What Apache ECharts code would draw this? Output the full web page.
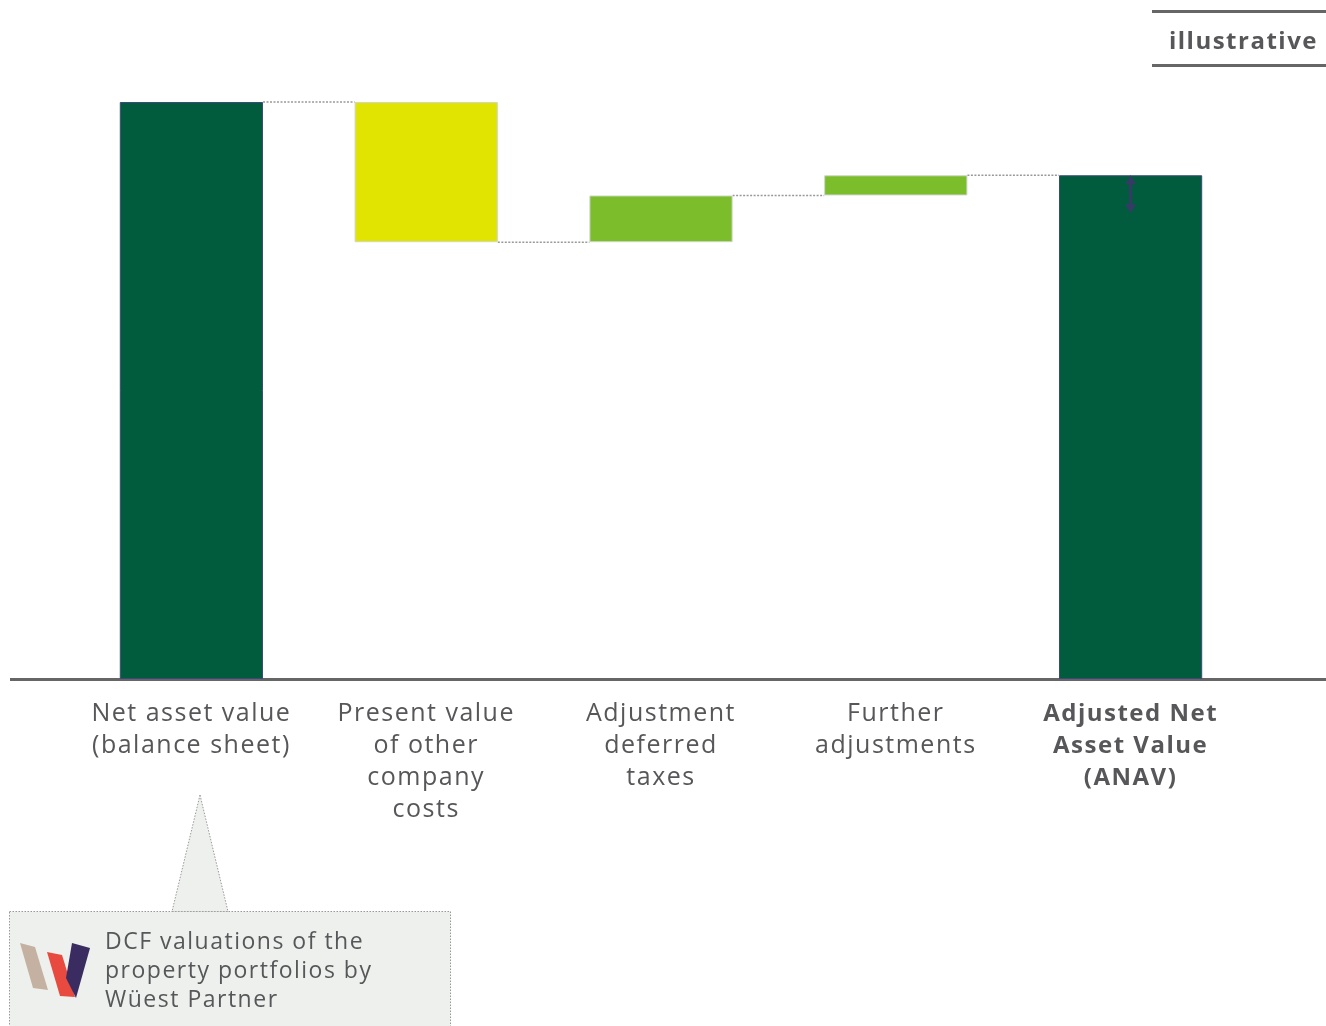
<!DOCTYPE html>
<html>
<head>
<meta charset="utf-8">
<script src="https://cdn.jsdelivr.net/npm/echarts@6/dist/echarts.min.js"></script>
<style>
html,body{margin:0;padding:0;background:#fff;}
#chart{width:1326px;height:1026px;}
</style>
</head>
<body>
<div id="chart"></div>
<script>
// ---- data ----
const categories = ['Net asset value\n(balance sheet)', 'Present value\nof other\ncompany\ncosts', 'Adjustment\ndeferred\ntaxes', 'Further\nadjustments', 'Adjusted Net\nAsset Value\n(ANAV)'];
const values = [100, -24.3, 8.1, 3.5, 87.3];
const isTotal = [true, false, false, false, true];
const barColors = ['#005C3D', '#E1E300', '#7BBD2B', '#7BBD2B', '#005C3D'];
const anavRange = [87.3, 80.7];
const noteText = 'DCF valuations of the\nproperty portfolios by\nWüest Partner';
const badgeText = 'illustrative';

// wide-tracked lettering like the original typeface
(function () {
  const orig = HTMLCanvasElement.prototype.getContext;
  HTMLCanvasElement.prototype.getContext = function (type, opts) {
    const ctx = orig.call(this, type, opts);
    if (ctx && type === '2d' && 'letterSpacing' in ctx && !ctx.__ls) {
      ctx.__ls = true;
      ctx.letterSpacing = '1.5px';
    }
    return ctx;
  };
})();

// ---- waterfall build ----
const base = [], height = [], levels = [];
let running = 0;
values.forEach((v, i) => {
  if (isTotal[i]) { base.push(0); height.push(v); running = v; }
  else if (v < 0) { base.push(running + v); height.push(-v); running += v; }
  else { base.push(running); height.push(v); running += v; }
  levels.push(running);
});
const connectors = [];
for (let i = 0; i < values.length - 1; i++) connectors.push([i, levels[i]]);

const BAR_FRAC = 0.61;
const chart = echarts.init(document.getElementById('chart'));
const textColor = '#57575A';
const fontFamily = '"Open Sans", "Noto Sans", sans-serif';

chart.setOption({
  animation: false,
  grid: { left: 74, right: 78, top: 102, bottom: 347 },
  xAxis: {
    type: 'category',
    data: categories,
    axisLine: { show: false },
    axisTick: { show: false },
    axisLabel: {
      interval: 0,
      margin: 19,
      formatter: (v, i) => (i === 4 ? '{b|' + v + '}' : '{n|' + v + '}'),
      rich: {
        n: { fontSize: 25, lineHeight: 32, color: textColor, fontFamily: fontFamily, fontWeight: 400 },
        b: { fontSize: 24, lineHeight: 32, color: textColor, fontFamily: fontFamily, fontWeight: 700 }
      }
    }
  },
  yAxis: { type: 'value', min: 0, max: 100, show: false, splitLine: { show: false } },
  series: [
    {
      type: 'bar', stack: 'w', barWidth: (BAR_FRAC * 100) + '%',
      itemStyle: { color: 'transparent' },
      data: base, silent: true
    },
    {
      type: 'bar', stack: 'w', barWidth: (BAR_FRAC * 100) + '%',
      data: height.map((h, i) => ({
        value: h,
        itemStyle: {
          color: barColors[i],
          borderColor: isTotal[i] ? '#3B4A78' : '#D0D6CC',
          borderWidth: 1
        }
      }))
    },
    {
      type: 'custom',
      data: connectors,
      z: 1,
      renderItem: (params, api) => {
        const i = api.value(0), lv = api.value(1);
        const bw = api.size([1, 0])[0] * BAR_FRAC / 2;
        const p1 = api.coord([i, lv]);
        const p2 = api.coord([i + 1, lv]);
        return {
          type: 'line',
          shape: { x1: p1[0] + bw, y1: p1[1], x2: p2[0] - bw, y2: p2[1] },
          style: { stroke: '#999', lineWidth: 1.5, lineDash: [2, 1.5] }
        };
      }
    },
    {
      // double arrow marking the ANAV range
      type: 'custom',
      data: [[values.length - 1, anavRange[0], anavRange[1]]],
      z: 5,
      renderItem: (params, api) => {
        const a = api.coord([api.value(0), api.value(1)]);
        const b = api.coord([api.value(0), api.value(2)]);
        const x = a[0], hw = 5.5, hh = 9, c = '#363B66';
        return {
          type: 'group',
          children: [
            { type: 'line', shape: { x1: x, y1: a[1] + hh - 1, x2: x, y2: b[1] - hh + 1 }, style: { stroke: c, lineWidth: 3 } },
            { type: 'polygon', shape: { points: [[x, a[1]], [x - hw, a[1] + hh], [x + hw, a[1] + hh]] }, style: { fill: c } },
            { type: 'polygon', shape: { points: [[x, b[1]], [x - hw, b[1] - hh], [x + hw, b[1] - hh]] }, style: { fill: c } }
          ]
        };
      }
    }
  ],
  graphic: [
    // axis baseline
    { type: 'line', shape: { x1: 10, y1: 679.5, x2: 1326, y2: 679.5 }, style: { stroke: '#666', lineWidth: 3 } },
    // illustrative badge
    { type: 'line', shape: { x1: 1152, y1: 11.5, x2: 1326, y2: 11.5 }, style: { stroke: '#666', lineWidth: 3 } },
    { type: 'line', shape: { x1: 1152, y1: 65.5, x2: 1326, y2: 65.5 }, style: { stroke: '#666', lineWidth: 3 } },
    { type: 'text', x: 1318, y: 42, style: { text: badgeText, fill: textColor, font: 'bold 24px ' + fontFamily, textAlign: 'right', textVerticalAlign: 'middle' } },
    // callout
    { type: 'rect', shape: { x: 9.5, y: 911.5, width: 441, height: 130 }, style: { fill: '#EDF0EC', stroke: '#999', lineWidth: 1, lineDash: [1.5, 1.5] } },
    { type: 'polygon', shape: { points: [[200, 795], [172, 911.5], [228, 911.5]] }, style: { fill: '#EDF0EC', stroke: '#999', lineWidth: 1, lineDash: [1.5, 1.5] } },
    { type: 'polygon', shape: { points: [[20, 943], [35, 947], [48, 990], [33, 988]] }, style: { fill: '#C4B1A1' } },
    { type: 'polygon', shape: { points: [[47, 952], [62, 955], [75, 997], [60, 996]] }, style: { fill: '#E84A40' } },
    { type: 'polygon', shape: { points: [[72, 943], [90, 948], [76, 998], [66, 978]] }, style: { fill: '#3A2C60' } },
    { type: 'text', x: 105, y: 928, style: { text: noteText, fill: textColor, font: '23px ' + fontFamily, lineHeight: 29, textVerticalAlign: 'top' } }
  ]
});
</script>
</body>
</html>
